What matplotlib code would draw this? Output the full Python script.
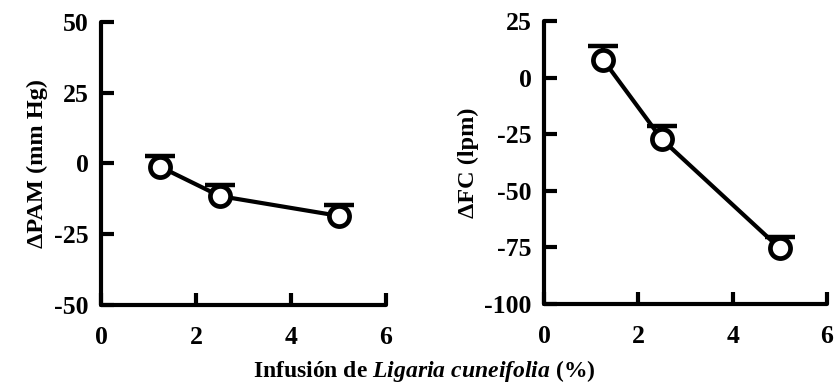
import matplotlib

matplotlib.use("Agg")
import matplotlib.pyplot as plt

# Infusión (%) y cambios medios con su error estándar (solo barra superior)
dosis = [1.25, 2.5, 5.0]
pam_media = [-1.2, -11.5, -18.5]
pam_ee = [4.0, 4.0, 4.0]
fc_media = [8.0, -27.3, -75.4]
fc_ee = [6.0, 6.0, 5.0]

plt.rcParams["font.family"] = ["Liberation Serif", "DejaVu Serif"]
plt.rcParams["font.weight"] = "bold"
plt.rcParams["axes.unicode_minus"] = False
plt.rcParams["mathtext.fontset"] = "custom"
plt.rcParams["mathtext.rm"] = "Liberation Serif:bold"
plt.rcParams["mathtext.bf"] = "Liberation Serif:bold"
plt.rcParams["mathtext.it"] = "Liberation Serif:italic:bold"
plt.rcParams["mathtext.bfit"] = "Liberation Serif:italic:bold"

fig = plt.figure(figsize=(8.37, 3.9), dpi=100)
ax1 = fig.add_axes([0.1207, 0.218, 0.3405, 0.7256])
ax2 = fig.add_axes([0.650, 0.2205, 0.338, 0.7256])


def panel(ax, media, ee, ylim, yticks, ylabel):
    _, caps, _ = ax.errorbar(dosis, media, yerr=[[0] * len(ee), ee], fmt="-",
                             color="black", lw=3, elinewidth=3, capsize=11,
                             capthick=3.2, zorder=2)
    caps[0].set_visible(False)  # sin tapa inferior
    ax.plot(dosis, media, "o", ms=14.5, mfc="white", mec="black", mew=3.4,
            zorder=3, clip_on=False)
    ax.set_xlim(0, 6)
    ax.set_ylim(*ylim)
    ax.set_xticks([0, 2, 4, 6])
    ax.set_yticks(yticks)
    for s in ("top", "right"):
        ax.spines[s].set_visible(False)
    for s in ("left", "bottom"):
        ax.spines[s].set_linewidth(3)
        ax.spines[s].set_capstyle("round")
    ax.tick_params(direction="in", length=9, width=3, labelsize=18.5, pad=9)
    ax.tick_params(axis="x", pad=15)
    for lab in ax.get_xticklabels() + ax.get_yticklabels():
        lab.set_fontweight("bold")
    ax.set_ylabel(ylabel, fontsize=17.5, fontweight="bold", labelpad=4)


panel(ax1, pam_media, pam_ee, (-50, 50), [-50, -25, 0, 25, 50], "ΔPAM (mm Hg)")
panel(ax2, fc_media, fc_ee, (-100, 25), [-100, -75, -50, -25, 0, 25], "ΔFC (lpm)")

fig.text(0.507, 0.015, r"Infusión de $\mathit{Ligaria\ cuneifolia}$ (%)",
         ha="center", va="bottom", fontsize=17, fontweight="bold")

fig.savefig("out.png", dpi=100)
plt.close(fig)
